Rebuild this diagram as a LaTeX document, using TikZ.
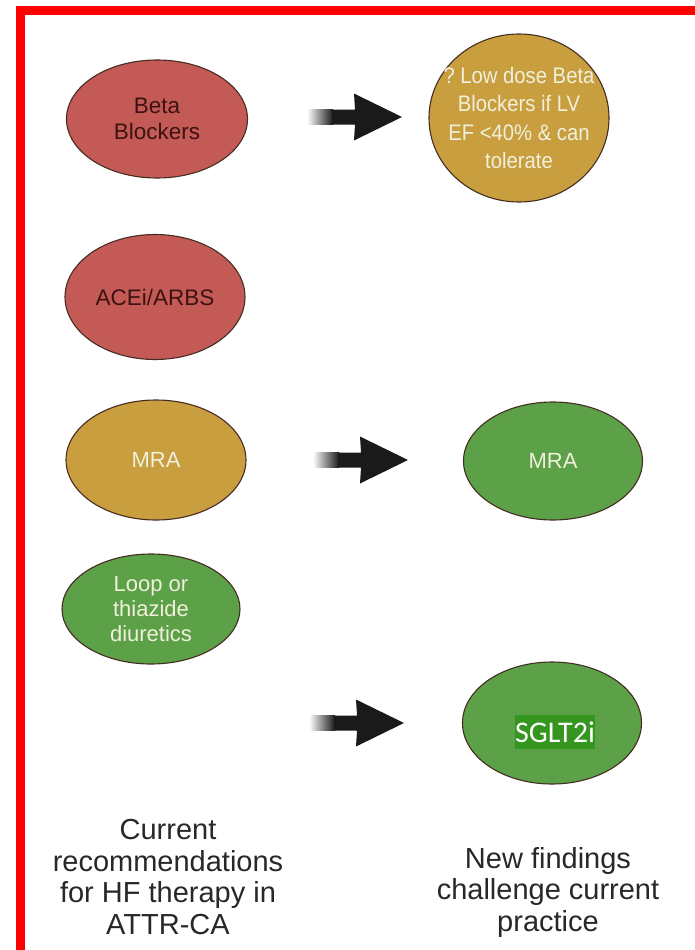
\documentclass[tikz,border=0pt]{standalone}
\usepackage{fontspec}
\setmainfont{Liberation Sans}
\newfontfamily\calibrilike{Carlito}
\newfontfamily\narrowsans[FakeStretch=0.9]{Liberation Sans}
\usetikzlibrary{shapes.geometric}
\definecolor{redfill}{RGB}{196,90,85}
\definecolor{goldfill}{RGB}{200,158,62}
\definecolor{greenfill}{RGB}{92,160,72}
\definecolor{redtext}{RGB}{60,18,18}
\definecolor{paletext}{RGB}{240,240,220}
\definecolor{ringline}{RGB}{70,45,35}
\definecolor{arrowc}{RGB}{26,26,26}
\definecolor{hlgreen}{RGB}{52,150,30}
\definecolor{captext}{RGB}{40,40,40}
\definecolor{frame}{RGB}{255,0,0}
\tikzset{
  pill/.style={ellipse, draw=ringline, line width=1.1pt, inner sep=0pt},
  redpill/.style={pill, fill=redfill},
  goldpill/.style={pill, fill=goldfill},
  greenpill/.style={pill, fill=greenfill},
  redlbl/.style={align=center, inner sep=0pt, text=redtext, font=\fontsize{22.5}{26}\selectfont},
  goldlbl/.style={align=center, inner sep=0pt, text=paletext, font=\fontsize{22}{25}\selectfont},
  narrowlbl/.style={align=center, inner sep=0pt, text=paletext, font=\narrowsans\fontsize{22.5}{28.5}\selectfont},
  greenlbl/.style={align=center, inner sep=0pt, text=paletext, font=\fontsize{22}{25}\selectfont},
  caption/.style={align=center, text=captext, font=\fontsize{29}{31.5}\selectfont, inner sep=0pt},
}
\begin{document}
\frenchspacing
\begin{tikzpicture}[x=1pt,y=-1pt]
\useasboundingbox (0,0) rectangle (695,950);
\fill[white] (0,0) rectangle (695,950);
% red frame
\draw[frame, line width=9pt, line join=miter] (695,10.5) -- (20,10.5) -- (20,950);

% left column
\node[redpill, minimum width=181pt, minimum height=118pt,
      label={[redlbl]center:Beta\\Blockers}] (bb) at (157,119) {};
\node[redpill, minimum width=180pt, minimum height=125pt,
      label={[redlbl]center:ACEi/ARBS}] (ace) at (155,297) {};
\node[goldpill, minimum width=180pt, minimum height=120pt,
      label={[goldlbl]center:MRA}] (mra1) at (156,460) {};
\node[greenpill, minimum width=178pt, minimum height=110pt,
      label={[greenlbl]center:Loop or\\thiazide\\diuretics}] (loop) at (151,609) {};

% right column
\node[goldpill, minimum width=180pt, minimum height=168pt,
      label={[narrowlbl]center:? Low dose Beta\\Blockers if LV\\EF <40\% \& can\\tolerate}] (ld) at (519,118) {};
\node[greenpill, minimum width=179pt, minimum height=118pt,
      label={[greenlbl]center:MRA}] (mra2) at (553,461) {};
\node[greenpill, minimum width=179pt, minimum height=122pt] (sg) at (552,723) {};
\node[fill=hlgreen, text=white, inner xsep=0pt, inner ysep=0pt, minimum height=34pt,
      font=\calibrilike\fontsize{30}{34}\selectfont] (sgt) at (555,732) {SGLT2i};

% block arrows
\foreach \nm/\xs/\yc in {a1/307/117, a2/313/460, a3/309/723}{
  \coordinate (\nm s) at (\xs,\yc);
  \begin{scope}[shift={(\nm s)}]
    \shade[left color=white, right color=arrowc] (0,-7.5) rectangle (26,7.5);
    \fill[arrowc] (25,-7.5) -- (48,-7.5) -- (47,-23.5) -- (95,0) -- (47,23.5) -- (48,7.5) -- (25,7.5) -- cycle;
  \end{scope}
}

% captions
\node[caption] (capl) at (168,877) {Current\\recommendations\\for HF therapy in\\ATTR-CA};
\node[caption] (capr) at (548,892) {New findings\\challenge current\\practice};
\end{tikzpicture}
\end{document}
